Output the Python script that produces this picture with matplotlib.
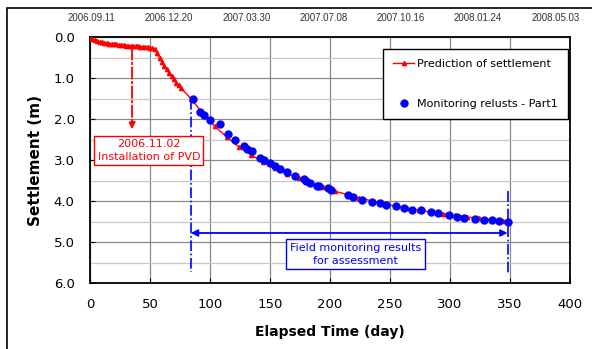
# -*- coding: utf-8 -*-
"""
settlement prediction vs. monitoring results
"""

import matplotlib
matplotlib.use('Agg')
import matplotlib.pyplot as plt
from matplotlib.patches import Rectangle

# prediction of settlement (day, m)
PRED_DAY = [0, 2, 4, 6, 8, 10, 12, 14, 16, 18, 20, 22, 24, 26, 28, 30, 32, 34,
            36, 38, 40, 42, 44, 46, 48, 50, 52, 54, 56, 58, 60, 62, 64, 66,
            68, 70, 72, 74, 76, 84, 94, 104, 114, 124, 134, 144, 154, 164,
            174, 184, 194, 204, 214, 224, 234, 244, 254, 264, 274, 284, 294,
            304, 314, 324, 334, 344, 348]
PRED_SETTL = [0.00, 0.04, 0.07, 0.09, 0.11, 0.12, 0.14, 0.15, 0.16, 0.17,
              0.18, 0.18, 0.19, 0.19, 0.20, 0.21, 0.21, 0.22, 0.22, 0.23,
              0.23, 0.24, 0.24, 0.25, 0.25, 0.26, 0.27, 0.29, 0.40, 0.52,
              0.61, 0.70, 0.79, 0.87, 0.95, 1.03, 1.11, 1.18, 1.25, 1.50,
              1.86, 2.18, 2.44, 2.68, 2.87, 3.05, 3.20, 3.33, 3.45, 3.57,
              3.67, 3.76, 3.84, 3.92, 3.99, 4.06, 4.12, 4.17, 4.22, 4.27,
              4.31, 4.35, 4.39, 4.42, 4.45, 4.48, 4.49]

# monitoring results - part 1 (day, m)
MON_DAY = [86, 92, 95, 100, 108, 115, 121, 128, 131, 135, 142, 145, 150, 154,
           158, 164, 171, 178, 180, 183, 189, 191, 198, 201, 215, 219, 227,
           235, 242, 247, 255, 262, 268, 276, 284, 290, 299, 306, 312, 321,
           328, 335, 341, 348]
MON_SETTL = [1.50, 1.83, 1.91, 2.03, 2.12, 2.36, 2.51, 2.65, 2.73, 2.79, 2.95,
             3.00, 3.08, 3.14, 3.22, 3.30, 3.38, 3.46, 3.50, 3.55, 3.63, 3.64,
             3.69, 3.73, 3.85, 3.91, 3.97, 4.02, 4.06, 4.09, 4.13, 4.18, 4.22,
             4.22, 4.26, 4.30, 4.35, 4.38, 4.42, 4.44, 4.47, 4.47, 4.48, 4.51]

TOP_TICKS = [0, 100, 200, 300, 400, 500, 600]
TOP_LABELS = ['2006.09.11', '2006.12.20', '2007.03.30', '2007.07.08',
              '2007.10.16', '2008.01.24', '2008.05.03']

PVD_DAY = 35
START_DAY = 84
END_DAY = 348

plt.rcParams['font.family'] = ['DejaVu Sans']

fig = plt.figure(figsize=(5.92, 3.49), dpi=100)
ax = fig.add_axes([90 / 592, 66 / 349, 480 / 592, 246 / 349])

# outer frame of the chart area
fig.patches.append(Rectangle((7 / 592, -0.1), 1.2, (349 - 8) / 349 + 0.1,
                             transform=fig.transFigure, fill=False,
                             edgecolor='black', linewidth=1.2))

ax.plot(PRED_DAY, PRED_SETTL, color='red', marker='^', markersize=3,
        linewidth=1.0, label='Prediction of settlement', zorder=3)
ax.plot(MON_DAY, MON_SETTL, color='blue', marker='o', markersize=5,
        linestyle='', label='Monitoring relusts - Part1', zorder=4)

ax.set_xlim(0, 400)
ax.set_ylim(6.0, 0.0)
ax.set_xticks(range(0, 401, 50))
ax.set_yticks([0, 1, 2, 3, 4, 5, 6])
ax.set_yticks([0.5, 1.5, 2.5, 3.5, 4.5, 5.5], minor=True)
ax.set_yticklabels([f'{_:.1f}' for _ in range(7)])
ax.grid(True, which='major', color='#888888', linewidth=0.9)
ax.grid(True, which='minor', axis='y', color='#c8c8c8', linewidth=0.9)
ax.tick_params(which='both', direction='in', labelsize=9.5)
ax.tick_params(which='minor', length=0)
ax.tick_params(axis='x', pad=11)
ax.tick_params(axis='y', pad=11)
for spine in ax.spines.values():
    spine.set_linewidth(1.3)

ax.set_xlabel('Elapsed Time (day)', fontsize=10, fontweight='bold',
              labelpad=10)
ax.set_ylabel('Settlement (m)', fontsize=11, fontweight='bold',
              labelpad=8)

# date axis on top
ax_top = ax.twiny()
ax_top.set_xlim(-2.5, 619)
ax_top.set_xticks(TOP_TICKS)
ax_top.set_xticklabels(TOP_LABELS, fontsize=7, color='#333333',
                       family='Liberation Sans')
ax_top.tick_params(length=0, pad=10)
for spine in ax_top.spines.values():
    spine.set_visible(False)

# PVD installation marker
ax.annotate('', xy=(PVD_DAY, 2.25), xytext=(PVD_DAY, 0.27),
            arrowprops=dict(arrowstyle='-|>', color='red', linestyle='-.',
                            linewidth=1.3, mutation_scale=10,
                            shrinkA=0, shrinkB=0))
ax.text(49, 2.77, '2006.11.02\nInstallation of PVD', color='red',
        fontsize=8, ha='center', va='center', linespacing=1.3,
        bbox=dict(boxstyle='square,pad=0.3', facecolor='white',
                  edgecolor='red', linewidth=1.0))

# field monitoring range
ax.plot([START_DAY, START_DAY], [1.5, 5.72], color='blue', linestyle='-.',
        linewidth=1.2, zorder=2)
ax.plot([END_DAY, END_DAY], [3.75, 5.76], color='blue', linestyle='-.',
        linewidth=1.2, zorder=2)
ax.annotate('', xy=(END_DAY, 4.78), xytext=(START_DAY, 4.78),
            arrowprops=dict(arrowstyle='<|-|>', color='blue', linewidth=1.3,
                            mutation_scale=10, shrinkA=0, shrinkB=0))
ax.text(221, 5.3, 'Field monitoring results\nfor assessment', color='blue',
        fontsize=8, ha='center', va='center', linespacing=1.3,
        bbox=dict(boxstyle='square,pad=0.35', facecolor='white',
                  edgecolor='blue', linewidth=1.0))

leg = ax.legend(loc='upper left', bbox_to_anchor=(383 / 592, 300 / 349),
                bbox_transform=fig.transFigure, fontsize=8,
                fancybox=False, framealpha=1, edgecolor='black',
                labelspacing=2.7, handlelength=1.9, borderpad=0.9,
                handletextpad=0.3, borderaxespad=0)
leg.get_frame().set_linewidth(1.0)

fig.savefig('out.png', dpi=100)
